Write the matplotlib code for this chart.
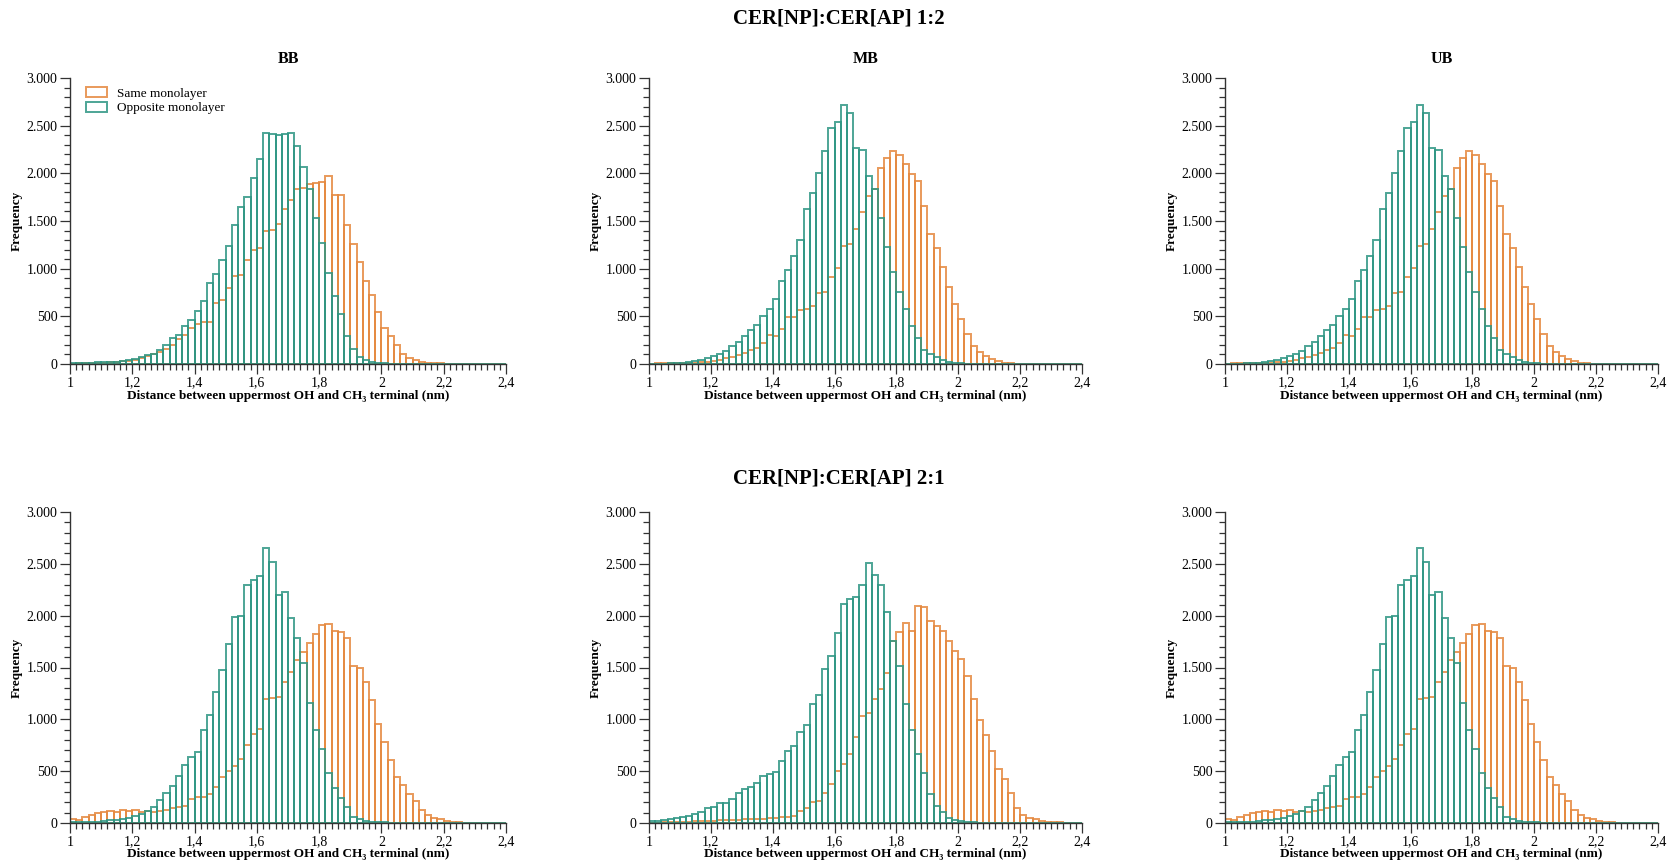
import matplotlib
matplotlib.use("Agg")
import matplotlib.pyplot as plt
from matplotlib.ticker import MultipleLocator, FuncFormatter
import numpy as np

plt.rcParams['font.family'] = ['Liberation Serif', 'DejaVu Serif']

# histogram bins: 1.00 .. 2.40 nm, 0.02 nm wide
bin_start = 1.0
bin_width = 0.02

# CER[NP]:CER[AP] 1:2
bb12_same = [5, 6, 8, 10, 12, 14, 17, 22, 28, 35,
             45, 60, 80, 100, 125, 160, 200, 260, 300, 375,
             420, 440, 445, 640, 670, 800, 920, 935, 1090, 1200,
             1220, 1390, 1410, 1470, 1630, 1720, 1840, 1845, 1890, 1900,
             1905, 1970, 1770, 1770, 1460, 1255, 1075, 870, 720, 545,
             380, 295, 200, 105, 65, 40, 25, 15, 10, 6,
             4, 3, 2, 2, 1, 1, 1, 1, 1, 1]
bb12_opp = [8, 10, 12, 14, 16, 18, 20, 25, 30, 40,
            55, 70, 90, 110, 150, 200, 270, 300, 400, 460,
            560, 660, 850, 940, 1090, 1240, 1460, 1650, 1750, 1950,
            2150, 2420, 2410, 2400, 2410, 2420, 2290, 2070, 1840, 1530,
            1270, 955, 710, 520, 290, 160, 75, 40, 20, 12,
            8, 5, 4, 3, 2, 2, 1, 1, 1, 1,
            1, 1, 1, 1, 1, 1, 1, 1, 1, 1]
mb12_same = [5, 8, 12, 10, 8, 10, 12, 15, 20, 25,
             35, 45, 60, 75, 95, 120, 145, 170, 220, 300,
             290, 370, 490, 490, 570, 580, 610, 740, 760, 910,
             1010, 1240, 1260, 1420, 1590, 1760, 1840, 2060, 2160, 2230,
             2190, 2095, 1990, 1920, 1660, 1365, 1220, 1015, 805, 625,
             475, 310, 190, 130, 85, 50, 28, 15, 8, 5,
             3, 2, 2, 1, 1, 1, 1, 1, 1, 1]
mb12_opp = [3, 4, 5, 8, 10, 15, 20, 28, 45, 66,
            84, 108, 136, 191, 226, 292, 355, 414, 505, 574,
            679, 867, 988, 1138, 1302, 1625, 1789, 2008, 2234, 2478,
            2537, 2722, 2635, 2270, 2240, 1975, 1840, 1530, 1230, 960,
            760, 580, 395, 275, 150, 100, 70, 45, 25, 12,
            8, 5, 3, 2, 2, 1, 1, 1, 1, 1,
            1, 1, 1, 1, 1, 1, 1, 1, 1, 1]
ub12_same = mb12_same
ub12_opp = mb12_opp

# CER[NP]:CER[AP] 2:1
bb21_same = [35, 30, 60, 80, 100, 110, 120, 105, 125, 120,
             130, 110, 115, 110, 115, 130, 145, 150, 160, 230,
             250, 250, 280, 350, 440, 500, 550, 615, 750, 860,
             910, 1200, 1205, 1220, 1360, 1460, 1570, 1650, 1740, 1820,
             1910, 1915, 1850, 1840, 1780, 1510, 1500, 1360, 1190, 955,
             780, 605, 440, 370, 275, 210, 130, 75, 50, 35,
             20, 10, 6, 4, 3, 2, 1, 1, 1, 1]
bb21_opp = [5, 6, 8, 10, 14, 18, 25, 30, 40, 51,
            67, 90, 116, 157, 222, 292, 357, 453, 556, 636,
            684, 896, 1038, 1262, 1474, 1731, 1985, 1995, 2294, 2348,
            2387, 2653, 2518, 2204, 2226, 1979, 1786, 1545, 1160, 896,
            716, 485, 340, 244, 154, 61, 35, 20, 12, 8,
            5, 4, 3, 2, 2, 1, 1, 1, 1, 1,
            1, 1, 1, 1, 1, 1, 1, 1, 1, 1]
mb21_same = [3, 4, 5, 6, 8, 10, 12, 15, 18, 20,
             22, 25, 28, 30, 32, 35, 38, 40, 42, 45,
             50, 55, 58, 67, 116, 148, 202, 212, 292, 373,
             501, 565, 662, 832, 1031, 1057, 1192, 1295, 1449, 1754,
             1840, 1931, 1850, 2098, 2082, 1947, 1899, 1850, 1760, 1658,
             1584, 1417, 1192, 989, 845, 694, 524, 427, 292, 148,
             74, 51, 35, 20, 12, 8, 5, 3, 2, 1]
mb21_opp = [15, 19, 29, 39, 45, 58, 67, 90, 106, 141,
            154, 190, 196, 228, 292, 324, 347, 389, 453, 469,
            491, 598, 694, 742, 877, 941, 1144, 1230, 1481, 1609,
            1834, 2117, 2162, 2181, 2300, 2509, 2390, 2294, 2033, 1754,
            1513, 1144, 896, 662, 485, 276, 164, 106, 51, 30,
            18, 10, 6, 4, 3, 2, 1, 1, 1, 1,
            1, 1, 1, 1, 1, 1, 1, 1, 1, 1]
ub21_same = bb21_same
ub21_opp = bb21_opp

panel_titles = ["BB", "MB", "UB"]
row_titles = ["CER[NP]:CER[AP] 1:2", "CER[NP]:CER[AP] 2:1"]
series_labels = ["Same monolayer", "Opposite monolayer"]

orange = "#e5883e"
teal = "#2e9683"

W, H = 1669, 868
fig = plt.figure(figsize=(W / 100, H / 100), dpi=100)

col_x = [(70, 506), (649, 1082), (1225, 1658)]
row_y = [(78, 364), (512, 823)]

data = [[(bb12_same, bb12_opp), (mb12_same, mb12_opp), (ub12_same, ub12_opp)],
        [(bb21_same, bb21_opp), (mb21_same, mb21_opp), (ub21_same, ub21_opp)]]


def fmt_y(v, pos):
    return "{:,}".format(int(v)).replace(",", ".")


def fmt_x(v, pos):
    return "{:g}".format(round(v, 2)).replace(".", ",")


for r in range(2):
    for c in range(3):
        x0, x1 = col_x[c]
        ytop, ybot = row_y[r]
        ax = fig.add_axes([x0 / W, 1 - ybot / H, (x1 - x0) / W, (ybot - ytop) / H])
        same, opp = data[r][c]
        edges = bin_start + bin_width * np.arange(len(same))
        # hollow bars, both series see-through
        b1 = ax.bar(edges, same, width=bin_width, align="edge", facecolor="none",
                    edgecolor=orange, linewidth=1.4, alpha=0.85, label=series_labels[0])
        b2 = ax.bar(edges, opp, width=bin_width, align="edge", facecolor="none",
                    edgecolor=teal, linewidth=1.4, alpha=0.85, label=series_labels[1])
        ax.set_xlim(1, 2.4)
        ax.set_ylim(0, 3000)
        ax.xaxis.set_major_locator(MultipleLocator(0.2))
        ax.xaxis.set_minor_locator(MultipleLocator(0.02))
        ax.yaxis.set_major_locator(MultipleLocator(500))
        ax.yaxis.set_minor_locator(MultipleLocator(100))
        ax.xaxis.set_major_formatter(FuncFormatter(fmt_x))
        ax.yaxis.set_major_formatter(FuncFormatter(fmt_y))
        for s in ["top", "right"]:
            ax.spines[s].set_visible(False)
        for s in ["left", "bottom"]:
            ax.spines[s].set_color("#333333")
            ax.spines[s].set_linewidth(1.0)
        ax.tick_params(which="major", direction="out", length=7, width=0.9,
                       color="#333333", labelsize=10, pad=2)
        ax.tick_params(which="minor", direction="out", length=4.5, width=0.9, color="#333333")
        ax.set_xlabel("Distance between uppermost OH and CH₃ terminal (nm)",
                      fontsize=9.5, fontweight="bold", labelpad=0)
        ax.set_ylabel("Frequency", fontsize=9.5, fontweight="bold", labelpad=3)
        if r == 0:
            ax.set_title(panel_titles[c], fontsize=11.5, fontweight="bold", pad=11)
        if r == 0 and c == 0:
            ax.legend(handles=[b1, b2], loc="upper left", bbox_to_anchor=(0.015, 1.0),
                      frameon=False, fontsize=9.5, handlelength=1.6, handleheight=0.8,
                      handletextpad=0.8, labelspacing=0.15, borderaxespad=0.3)

fig.text(839 / W, 1 - 18 / H, row_titles[0], ha="center", va="center",
         fontsize=15, fontweight="bold")
fig.text(839 / W, 1 - 478 / H, row_titles[1], ha="center", va="center",
         fontsize=15, fontweight="bold")

fig.savefig("out.png", dpi=100)
